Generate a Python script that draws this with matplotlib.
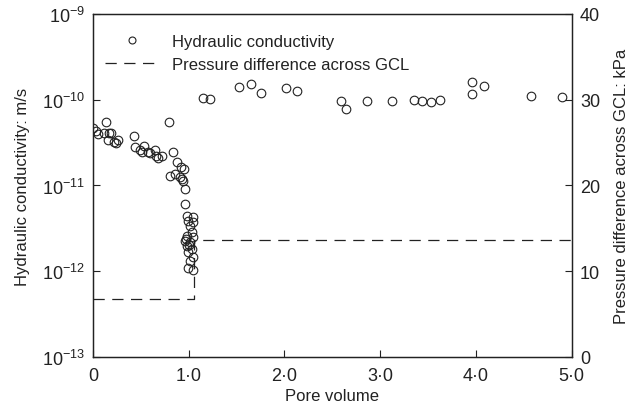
import matplotlib
matplotlib.use("Agg")
import matplotlib.pyplot as plt
from matplotlib.lines import Line2D

plt.rcParams['font.family'] = ['Liberation Sans', 'DejaVu Sans']
plt.rcParams['mathtext.fontset'] = 'custom'
plt.rcParams['mathtext.rm'] = 'Liberation Sans'
plt.rcParams['mathtext.it'] = 'Liberation Sans:italic'

# Hydraulic conductivity data (pore volume, m/s)
pv = [0.0, 0.031, 0.052, 0.136, 0.115, 0.167, 0.188, 0.157, 0.219, 0.240, 0.261,
      0.428, 0.439, 0.491, 0.533, 0.512, 0.574, 0.595, 0.648, 0.658, 0.679, 0.721,
      0.794, 0.836, 0.877, 0.919, 0.950, 0.804, 0.856, 0.909, 0.930, 0.940,
      0.961, 0.961, 0.982, 1.044, 0.992, 1.044, 1.013, 1.034, 0.982, 1.044,
      0.961, 1.013, 0.982, 1.034, 0.992, 1.044, 1.013, 0.992, 1.044, 0.972, 1.003,
      1.149, 1.222, 1.525, 1.647, 1.755, 2.016, 2.131, 2.587, 2.643, 2.859,
      3.123, 3.353, 3.440, 3.530, 3.624, 3.955, 3.955, 4.084, 4.574, 4.902]
k = [4.69e-11, 4.32e-11, 3.99e-11, 5.50e-11, 4.09e-11, 4.09e-11, 4.09e-11, 3.39e-11,
     3.22e-11, 3.13e-11, 3.39e-11,
     3.78e-11, 2.81e-11, 2.59e-11, 2.89e-11, 2.46e-11, 2.46e-11, 2.39e-11, 2.59e-11,
     2.21e-11, 2.09e-11, 2.21e-11,
     5.50e-11, 2.46e-11, 1.88e-11, 1.64e-11, 1.56e-11, 1.29e-11, 1.36e-11, 1.26e-11,
     1.19e-11, 1.13e-11,
     9.1e-12, 6.1e-12, 4.41e-12, 4.29e-12, 3.85e-12, 3.75e-12, 3.37e-12, 2.87e-12,
     2.58e-12, 2.51e-12, 2.25e-12, 2.19e-12, 1.97e-12, 1.82e-12, 1.68e-12, 1.47e-12,
     1.32e-12, 1.09e-12, 1.03e-12, 2.40e-12, 2.05e-12,
     1.05e-10, 1.02e-10, 1.40e-10, 1.53e-10, 1.20e-10, 1.36e-10, 1.26e-10, 9.7e-11,
     7.9e-11, 9.7e-11, 9.7e-11, 1.0e-10, 9.7e-11, 9.5e-11, 9.9e-11, 1.60e-10,
     1.18e-10, 1.44e-10, 1.11e-10, 1.08e-10]

# Pressure difference across GCL (kPa), step profile
pv_p = [0.0, 1.05, 5.0]
dp = [6.8, 13.7, 13.7]

xticks = [0, 1.0, 2.0, 3.0, 4.0, 5.0]
xticklabels = ['0', '1\u00b70', '2\u00b70', '3\u00b70', '4\u00b70', '5\u00b70']
yticks = [1e-13, 1e-12, 1e-11, 1e-10, 1e-9]
yticklabels = [r'$10^{-13}$', r'$10^{-12}$', r'$10^{-11}$', r'$10^{-10}$', r'$10^{-9}$']
y2ticks = [0, 10, 20, 30, 40]

col = '#222222'
fig = plt.figure(figsize=(6.44, 4.14), dpi=100)
ax = fig.add_axes([0.1444, 0.1353, 0.7433, 0.8285])
ax.plot(pv, k, linestyle='none', marker='o', ms=6.2, mfc='none', mec=col, mew=0.8)
ax.set_yscale('log')
ax.set_ylim(1e-13, 1e-9)
ax.set_xlim(0, 5.0)
ax.set_xticks(xticks)
ax.set_xticklabels(xticklabels)
ax.set_yticks(yticks)
ax.set_yticklabels(yticklabels)
ax.yaxis.set_minor_locator(matplotlib.ticker.NullLocator())
ax.tick_params(direction='in', labelsize=13, length=5, width=0.8, colors=col)
ax.tick_params(axis='x', pad=7)
ax.tick_params(axis='y', pad=6)
ax.set_xlabel('Pore volume', fontsize=12, color=col, labelpad=3)
ax.set_ylabel('Hydraulic conductivity: m/s', fontsize=12, color=col, labelpad=8)
for s in ax.spines.values():
    s.set_linewidth(0.9)
    s.set_color(col)

ax2 = ax.twinx()
ax2.plot(pv_p, dp, drawstyle='steps-post', color=col, lw=0.9, dashes=(9, 6))
ax2.set_ylim(0, 40)
ax2.set_yticks(y2ticks)
ax2.tick_params(direction='in', labelsize=13, length=5, width=0.8, colors=col, pad=6)
ax2.set_ylabel('Pressure difference across GCL: kPa', fontsize=12, color=col, labelpad=10)
for s in ax2.spines.values():
    s.set_linewidth(0.9)
    s.set_color(col)

handles = [Line2D([], [], linestyle='none', marker='o', ms=5, mfc='none', mec=col, mew=0.8),
           Line2D([], [], color=col, lw=0.9, dashes=(9, 6))]
leg = ax2.legend(handles, ['Hydraulic conductivity', 'Pressure difference across GCL'],
                 loc='upper left', bbox_to_anchor=(0.0, 0.975), frameon=False,
                 fontsize=12, handlelength=3.3, handletextpad=0.75, labelspacing=0.45,
                 borderaxespad=0.3)
for t in leg.get_texts():
    t.set_color(col)

fig.savefig('out.png', dpi=100)
